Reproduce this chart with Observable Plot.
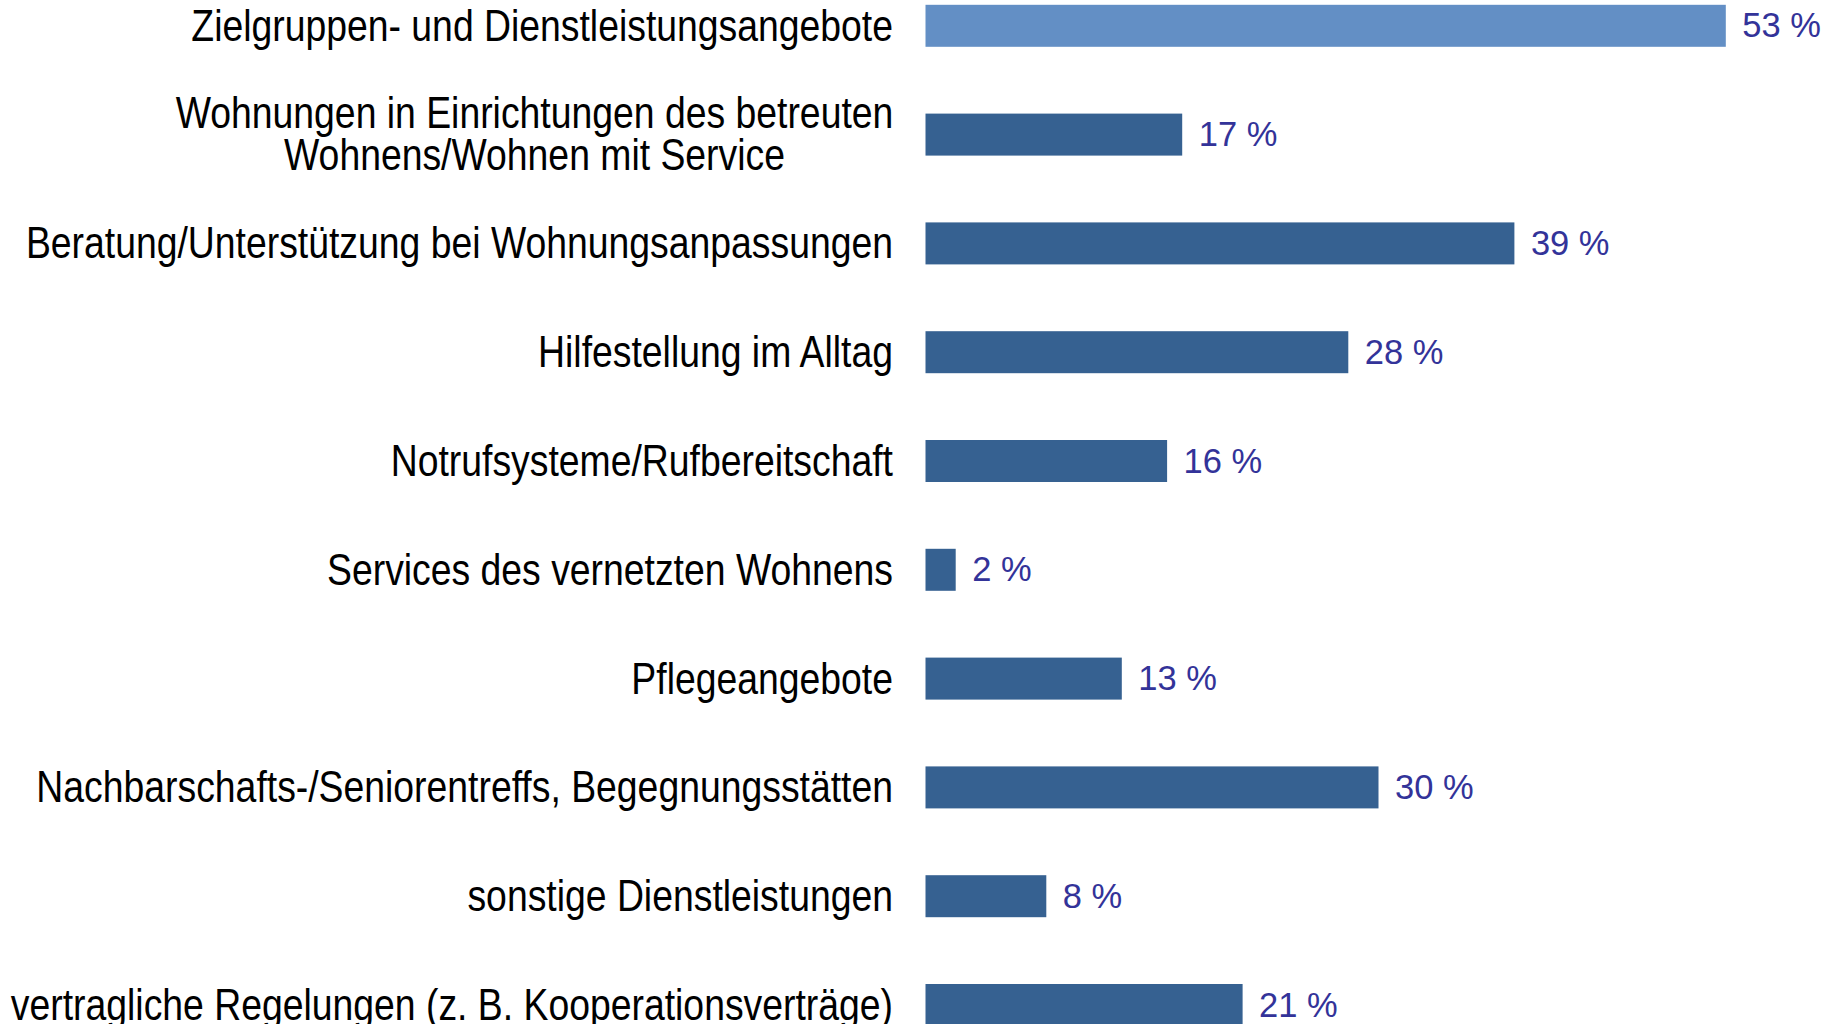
<!DOCTYPE html>
<html>
<head>
<meta charset="utf-8">
<script src="https://cdn.jsdelivr.net/npm/d3@7"></script>
<script src="https://cdn.jsdelivr.net/npm/@observablehq/plot@0.6"></script>
<style>
  html, body { margin: 0; padding: 0; background: #fff; }
  #chart { width: 1837px; height: 1024px; overflow: hidden; }
</style>
</head>
<body>
<div id="chart"></div>
<script>
const categories = [
  "Zielgruppen- und Dienstleistungsangebote",
  "Wohnungen in Einrichtungen des betreuten\nWohnens/Wohnen mit Service",
  "Beratung/Unterstützung bei Wohnungsanpassungen",
  "Hilfestellung im Alltag",
  "Notrufsysteme/Rufbereitschaft",
  "Services des vernetzten Wohnens",
  "Pflegeangebote",
  "Nachbarschafts-/Seniorentreffs, Begegnungsstätten",
  "sonstige Dienstleistungen",
  "vertragliche Regelungen (z. B. Kooperationsverträge)"
];
const values = [53, 17, 39, 28, 16, 2, 13, 30, 8, 21];
const highlighted = [true, false, false, false, false, false, false, false, false, false];

const data = categories.map((c, i) => ({ cat: c, value: values[i], hi: highlighted[i], multi: c.includes("\n") }));

const plot = Plot.plot({
  width: 1837,
  height: 1024,
  marginTop: 0, marginBottom: 0, marginLeft: 0, marginRight: 0,
  style: { background: "#ffffff", fontFamily: "'Liberation Sans', Arial, sans-serif" },
  x: { domain: [0, 60], range: [925.5, 925.5 + 15.1 * 60], axis: null },
  y: { domain: categories, range: [-28.6, 1059.4], paddingInner: 0.614, paddingOuter: 0.307, round: false, axis: null },
  marks: [
    Plot.barX(data, { x: "value", y: "cat", fill: d => d.hi ? "#638fc5" : "#366191" }),
    Plot.text(data, {
      x: "value", y: "cat", text: d => `${d.value} %`,
      textAnchor: "start", dx: 16, fill: "#333399", fontSize: 34.5
    }),
    Plot.text(data.filter(d => !d.multi), {
      x: 0, y: "cat", text: "cat", textAnchor: "end", dx: -33,
      fill: "#000000", fontSize: 45
    }),
    Plot.text(data.filter(d => d.multi), {
      x: 0, y: "cat", text: "cat", textAnchor: "middle", dx: -391.5,
      lineHeight: 0.933, fill: "#000000", fontSize: 45
    })
  ]
});

// Category labels in the reference are horizontally condensed
const sx = 0.83;
const catSet = new Set(categories.map(c => c.replace(/\n/g, "")));
d3.select(plot).selectAll("text").each(function () {
  if (!catSet.has(this.textContent)) return;
  const t = d3.select(this);
  const tr = t.attr("transform");
  if (tr) {
    t.attr("transform", tr + ` scale(${sx},1)`);
  } else {
    const x = +t.attr("x") || 0, y = +t.attr("y") || 0;
    t.attr("x", null).attr("y", null).attr("transform", `translate(${x},${y}) scale(${sx},1)`);
  }
});

document.getElementById("chart").appendChild(plot);
</script>
</body>
</html>
